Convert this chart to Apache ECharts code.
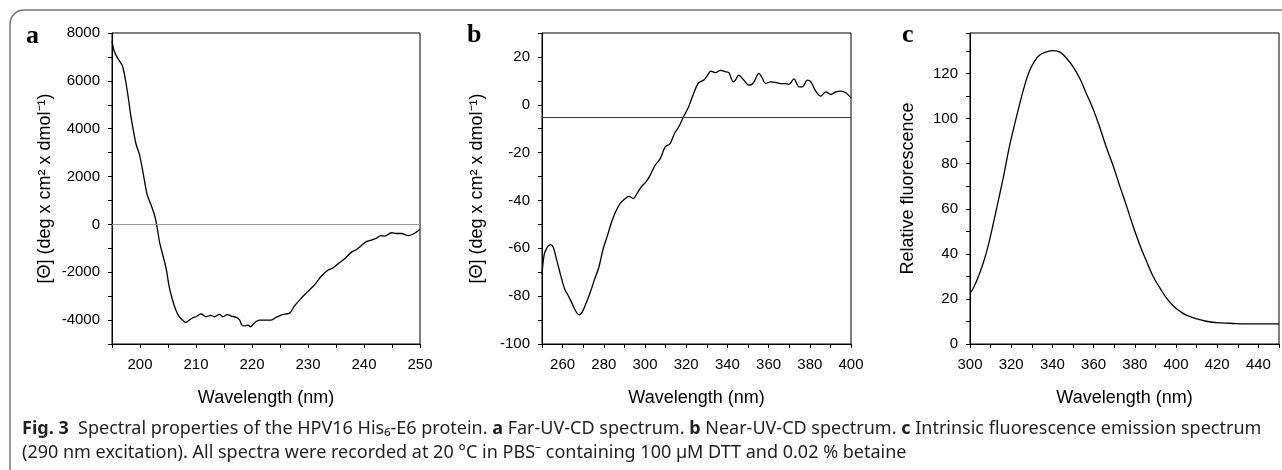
<html>
    <head>
        <meta charset="utf-8">
        <script src="https://cdn.jsdelivr.net/npm/echarts@6/dist/echarts.min.js"></script>
    </head>
    <body>
        <style>
            html, body {
                margin: 0;
                background: #fff;
            }
            #main {
                width: 1282px;
                height: 470px;
            }
        </style>
        <div id="main"></div>
        <script>

        // a: far-UV CD
        var farUvWl = [195, 195.4, 196.0, 196.9, 197.8, 198.4, 199.3, 199.9, 200.5, 201.3, 202.0, 202.6, 203.0, 203.5, 204.1, 204.7, 205.2, 205.8, 206.4, 207.0, 207.6, 208.2, 208.8, 209.5, 210.0, 210.9, 211.8, 212.6, 213.3, 214.2, 214.8, 215.6, 216.3, 217.2, 217.8, 218.2, 218.8, 219.3, 219.7, 220.5, 221.3, 222.2, 223.4, 224.3, 225.2, 226.1, 226.8, 227.6, 228.8, 230.0, 231.2, 232.4, 233.6, 234.5, 235.4, 236.6, 237.7, 238.6, 239.5, 240.4, 241.3, 242.2, 243.0, 243.7, 244.9, 245.8, 246.7, 247.9, 248.8, 250];
        var farUvCd = [7650, 7240, 6950, 6600, 5470, 4480, 3350, 2930, 2220, 1230, 800, 380, -40, -750, -1310, -1880, -2590, -3150, -3580, -3860, -4000, -4100, -4000, -3900, -3860, -3745, -3860, -3800, -3860, -3760, -3860, -3770, -3830, -3890, -4000, -4210, -4240, -4210, -4280, -4110, -4000, -4000, -4000, -3890, -3790, -3745, -3690, -3410, -3080, -2800, -2520, -2160, -1910, -1810, -1640, -1430, -1170, -1060, -890, -720, -660, -580, -470, -490, -350, -380, -380, -470, -400, -210];

        // b: near-UV CD
        var nearUvWl = [250, 251.0, 252.1, 254.2, 255.4, 257.0, 259.1, 261.0, 262.7, 264.3, 266.2, 268.0, 269.5, 271.6, 273.2, 275.3, 277.6, 279.7, 281.8, 283.8, 285.7, 287.9, 290.0, 292.2, 294.4, 296.0, 298.1, 300.4, 302.5, 304.9, 307.4, 309.8, 312.2, 314.3, 316.6, 318.7, 321.2, 323.6, 326.0, 328.5, 330.1, 332.0, 334.2, 336.6, 339.0, 340.7, 342.8, 343.9, 345.5, 348.0, 350.4, 352.4, 355.3, 357.0, 358.5, 361.0, 363.4, 365.8, 368.3, 369.9, 372.3, 374.8, 376.4, 378.8, 380.5, 382.9, 385.3, 387.8, 390.2, 392.6, 395.1, 397.5, 400];
        var nearUvCd = [-70.7, -63.0, -60.2, -58.5, -59.5, -64.4, -71.4, -77.0, -79.7, -82.5, -86.0, -87.8, -86.7, -82.5, -79.0, -73.5, -67.9, -60.2, -54.6, -49.0, -44.8, -41.3, -39.5, -38.3, -39.2, -37.2, -34.4, -32.3, -29.5, -25.3, -22.5, -17.6, -16.2, -12.0, -8.9, -5.0, -0.8, 4.7, 9.2, 10.3, 12.0, 14.1, 13.4, 14.4, 13.8, 13.4, 9.6, 10.3, 12.4, 10.3, 8.2, 8.9, 13.1, 11.0, 8.9, 9.6, 9.4, 8.8, 8.8, 8.5, 10.8, 7.5, 7.5, 10.3, 9.6, 5.7, 3.6, 5.4, 4.3, 5.4, 5.7, 5.0, 2.9];

        // c: intrinsic fluorescence
        var fluorWl = [300, 302.1, 304.5, 307.0, 309.4, 311.8, 314.3, 316.7, 319.1, 321.6, 324.0, 326.4, 328.8, 331.3, 333.7, 337.0, 340.2, 343.4, 346.7, 349.9, 353.2, 356.4, 359.6, 362.9, 366.1, 369.4, 372.6, 375.9, 379.1, 382.3, 385.6, 388.8, 392.1, 395.3, 398.5, 401.8, 405.0, 409.9, 414.7, 419.6, 426.1, 434.2, 442.3, 450];
        var fluorInt = [22.3, 25.7, 31.0, 37.6, 45.8, 55.5, 65.9, 76.3, 87.5, 97.2, 106.1, 114.3, 121.0, 125.4, 128.1, 129.6, 130.2, 129.6, 126.9, 123.2, 118.0, 111.3, 104.6, 96.4, 87.5, 79.3, 70.4, 61.5, 52.5, 44.3, 36.9, 30.2, 25.0, 20.5, 17.1, 14.6, 12.8, 11.2, 10.1, 9.5, 9.2, 8.9, 8.9, 8.9];

        // reference lines
        var farUvBaseline = [0];
        var nearUvBaseline = [-5.4];

        function zip(xs, ys) {
            var out = [];
            for (var i = 0; i < xs.length; i++) {
                out.push([xs[i], ys[i]]);
            }
            return out;
        }

        function every(step) {
            return function (v) {
                return Math.abs(v % step) < 1e-6 ? String(v) : '';
            };
        }

        var font = '"Liberation Sans", Arial, sans-serif';
        var nameStyle = { color: '#000', fontSize: 18, fontFamily: font };

        function xAxisFor(idx, min, max, step, labelStep) {
            return {
                type: 'value', gridIndex: idx, min: min, max: max, interval: step,
                name: 'Wavelength (nm)', nameLocation: 'middle', nameGap: 45,
                nameTextStyle: nameStyle,
                axisLine: { onZero: false, lineStyle: { color: '#000', width: 1 } },
                axisTick: { length: 4, lineStyle: { color: '#000' } },
                axisLabel: { formatter: every(labelStep), margin: 13, color: '#000', fontSize: 15, fontFamily: font },
                splitLine: { show: false }
            };
        }

        function yAxisFor(idx, min, max, step, labelStep, name, gap) {
            return {
                type: 'value', gridIndex: idx, min: min, max: max, interval: step,
                name: name, nameLocation: 'middle', nameGap: gap, nameRotate: 90,
                nameTextStyle: nameStyle,
                axisLine: { onZero: false, lineStyle: { color: '#000', width: 1 } },
                axisTick: { length: 4, lineStyle: { color: '#000' } },
                axisLabel: { formatter: every(labelStep), margin: 12, color: '#000', fontSize: 15, fontFamily: font },
                splitLine: { show: false }
            };
        }

        function lineSeries(idx, data, smooth, refs, refColor) {
            return {
                type: 'line', xAxisIndex: idx, yAxisIndex: idx,
                data: data, showSymbol: false, smooth: smooth, silent: true,
                lineStyle: { color: '#000', width: 1.3 },
                markLine: refs ? {
                    silent: true, symbol: 'none', label: { show: false },
                    lineStyle: { color: refColor, type: 'solid', width: 1 },
                    data: refs.map(function (v) { return { yAxis: v }; })
                } : undefined
            };
        }

        var chart = echarts.init(document.getElementById('main'), null, { renderer: 'canvas' });

        var captionFont = '"Noto Sans", sans-serif';

        chart.setOption({
            backgroundColor: '#fff',
            animation: false,
            grid: [
                { left: 112, top: 33, width: 308, height: 311, show: true, borderColor: '#000', borderWidth: 1 },
                { left: 542, top: 33, width: 309, height: 311, show: true, borderColor: '#000', borderWidth: 1 },
                { left: 970, top: 33, width: 309, height: 311, show: true, borderColor: '#000', borderWidth: 1 }
            ],
            xAxis: [
                xAxisFor(0, 195, 250, 5, 10),
                xAxisFor(1, 250, 400, 10, 20),
                xAxisFor(2, 300, 450, 10, 20)
            ],
            yAxis: [
                yAxisFor(0, -5000, 8000, 1000, 2000, '[Θ] (deg x cm² x dmol⁻¹)', 58),
                yAxisFor(1, -100, 30, 10, 20, '[Θ] (deg x cm² x dmol⁻¹)', 56),
                yAxisFor(2, 0, 138, 10, 20, 'Relative fluorescence', 53)
            ],
            series: [
                lineSeries(0, zip(farUvWl, farUvCd), 0.3, farUvBaseline, '#999'),
                lineSeries(1, zip(nearUvWl, nearUvCd), 0.3, nearUvBaseline, '#333'),
                lineSeries(2, zip(fluorWl, fluorInt), true)
            ],
            graphic: [
                {
                    type: 'rect', silent: true,
                    shape: { x: 10, y: 10, width: 1300, height: 500, r: 14 },
                    style: { fill: 'none', stroke: '#777', lineWidth: 1.5 }
                },
                { type: 'text', left: 26, top: 23, style: { text: 'a', font: 'bold 26px "Liberation Serif", serif', fill: '#000' } },
                { type: 'text', left: 467, top: 22, style: { text: 'b', font: 'bold 26px "Liberation Serif", serif', fill: '#000' } },
                { type: 'text', left: 902, top: 22, style: { text: 'c', font: 'bold 26px "Liberation Serif", serif', fill: '#000' } },
                {
                    type: 'text', left: 22, top: 420,
                    style: {
                        text: '{b|Fig. 3}  Spectral properties of the HPV16 His₆-E6 protein. {b|a} Far-UV-CD spectrum. {b|b} Near-UV-CD spectrum. {b|c} Intrinsic fluorescence emission spectrum',
                        font: '18px ' + captionFont, fill: '#231f20',
                        rich: { b: { fontWeight: 'bold', fontSize: 18, fontFamily: captionFont, fill: '#231f20' } }
                    }
                },
                {
                    type: 'text', left: 22, top: 444,
                    style: {
                        text: '(290 nm excitation). All spectra were recorded at 20 °C in PBS⁻ containing 100 µM DTT and 0.02 % betaine',
                        font: '18px ' + captionFont, fill: '#231f20'
                    }
                }
            ]
        });

        </script>
    </body>
</html>
